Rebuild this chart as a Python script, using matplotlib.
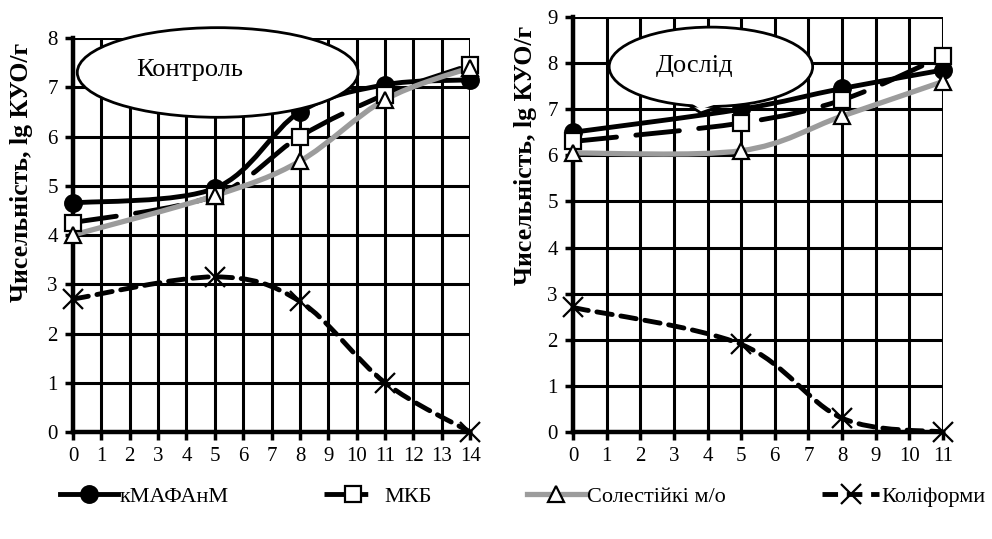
import numpy as np
import matplotlib
matplotlib.use("Agg")
import matplotlib.pyplot as plt
from matplotlib.path import Path
from matplotlib.patches import PathPatch, Ellipse, Polygon
from matplotlib.lines import Line2D

plt.rcParams['font.family'] = ['Liberation Serif', 'DejaVu Serif']

# Контроль
days_ctrl = [0, 5, 8, 11, 14]
kmafanm_ctrl = [4.65, 4.95, 6.5, 7.05, 7.15]
mkb_ctrl = [4.25, 4.8, 6.0, 6.85, 7.45]
salt_ctrl = [4.0, 4.8, 5.5, 6.75, 7.4]
coli_ctrl = [2.7, 3.15, 2.65, 1.0, 0.0]

# Дослід
days_exp = [0, 5, 8, 11]
kmafanm_exp = [6.5, 7.0, 7.45, 7.85]
mkb_exp = [6.3, 6.7, 7.2, 8.15]
salt_exp = [6.05, 6.1, 6.85, 7.6]
coli_exp = [2.7, 1.9, 0.3, 0.0]

labels = ['кМАФАнМ', 'МКБ', 'Солестійкі м/о', 'Коліформи']

styles = [
    dict(color='black', lw=3.5, ls='-', marker='o', mfc='black', ms=12),
    dict(color='black', lw=3.5, ls=(0, (9, 4)), marker='s', mfc='white', ms=12),
    dict(color='#9c9c9c', lw=3.8, ls='-', marker='^', mfc='white', ms=12),
    dict(color='black', lw=3.5, ls=(0, (3.2, 1.8)), marker='x', mfc='black', ms=14),
]


def smooth_path(x, y):
    # згладжена лінія як в Excel: сегменти Безьє з контрольними точками Catmull-Rom
    pts = np.column_stack([x, y]).astype(float)
    n = len(pts)
    verts = [pts[0]]
    codes = [Path.MOVETO]
    for i in range(n - 1):
        p0 = pts[i - 1] if i > 0 else pts[i]
        p1 = pts[i]
        p2 = pts[i + 1]
        p3 = pts[i + 2] if i + 2 < n else pts[i + 1]
        c1 = p1 + (p2 - p0) / 6.0
        c2 = p2 - (p3 - p1) / 6.0
        verts += [c1, c2, p2]
        codes += [Path.CURVE4] * 3
    return Path(verts, codes)


def draw_panel(ax, days, series, xmax, ymax):
    ax.set_xlim(0, xmax)
    ax.set_ylim(0, ymax)
    ax.set_xticks(range(0, xmax + 1))
    ax.set_yticks(range(0, ymax + 1))
    ax.grid(True, color='black', lw=2.2)
    for s in ['top', 'right']:
        ax.spines[s].set_visible(False)
    for s in ['left', 'bottom']:
        ax.spines[s].set_linewidth(3.2)
    ax.tick_params(axis='both', direction='out', length=6, width=2.5,
                   labelsize=15, pad=5)
    for vals, st in zip(series, styles):
        ax.add_patch(PathPatch(smooth_path(days, vals), fill=False,
                               edgecolor=st['color'], lw=st['lw'],
                               ls=st['ls'], zorder=3, clip_on=False,
                               capstyle='round'))
        ax.plot(days, vals, ls='none', marker=st['marker'], ms=st['ms'],
                mfc=st['mfc'], mec='black', mew=1.6, zorder=4, clip_on=False)
    ax.set_ylabel('Чисельність, lg КУО/г', fontsize=18.5, fontweight='bold')


fig = plt.figure(figsize=(9.92, 5.39), dpi=100)
ax1 = fig.add_axes([0.0736, 0.1985, 0.4004, 0.731])
ax2 = fig.add_axes([0.5776, 0.1985, 0.373, 0.770])

draw_panel(ax1, days_ctrl, [kmafanm_ctrl, mkb_ctrl, salt_ctrl, coli_ctrl], 14, 8)
draw_panel(ax2, days_exp, [kmafanm_exp, mkb_exp, salt_exp, coli_exp], 11, 9)
ax1.yaxis.set_label_coords(-0.10, 0.66)
ax2.yaxis.set_label_coords(-0.097, 0.667)

# еліпси з підписами
e1 = Ellipse((5.1, 7.3), 9.9, 1.82, facecolor='white', edgecolor='black',
             lw=2, zorder=5, clip_on=False)
ax1.add_patch(e1)
ax1.text(4.1, 7.35, 'Контроль', ha='center', va='center', fontsize=19, zorder=6)

ax2.add_patch(Polygon([(3.2, 7.2), (3.8, 6.92), (4.9, 7.2)], closed=True,
                      facecolor='white', edgecolor='black', lw=2, zorder=5))
e2 = Ellipse((4.1, 7.92), 6.05, 1.72, facecolor='white', edgecolor='black',
             lw=2, zorder=5, clip_on=False)
ax2.add_patch(e2)
ax2.add_patch(Polygon([(3.25, 7.25), (3.8, 7.0), (4.85, 7.25)], closed=True,
                      facecolor='white', edgecolor='none', zorder=6))
ax2.text(3.6, 7.94, 'Дослід', ha='center', va='center', fontsize=19, zorder=7)

# легенда
handles = [Line2D([], [], color=st['color'], lw=st['lw'], ls=st['ls'],
                  marker=st['marker'], ms=st['ms'], mfc=st['mfc'],
                  mec='black', mew=1.6) for st in styles]
fig.legend(handles, labels, loc='center', bbox_to_anchor=(0.527, 0.078),
           ncol=4, frameon=False, fontsize=16, handlelength=2.6,
           handletextpad=0.1, columnspacing=4.3)

fig.savefig('out.png', dpi=100)
